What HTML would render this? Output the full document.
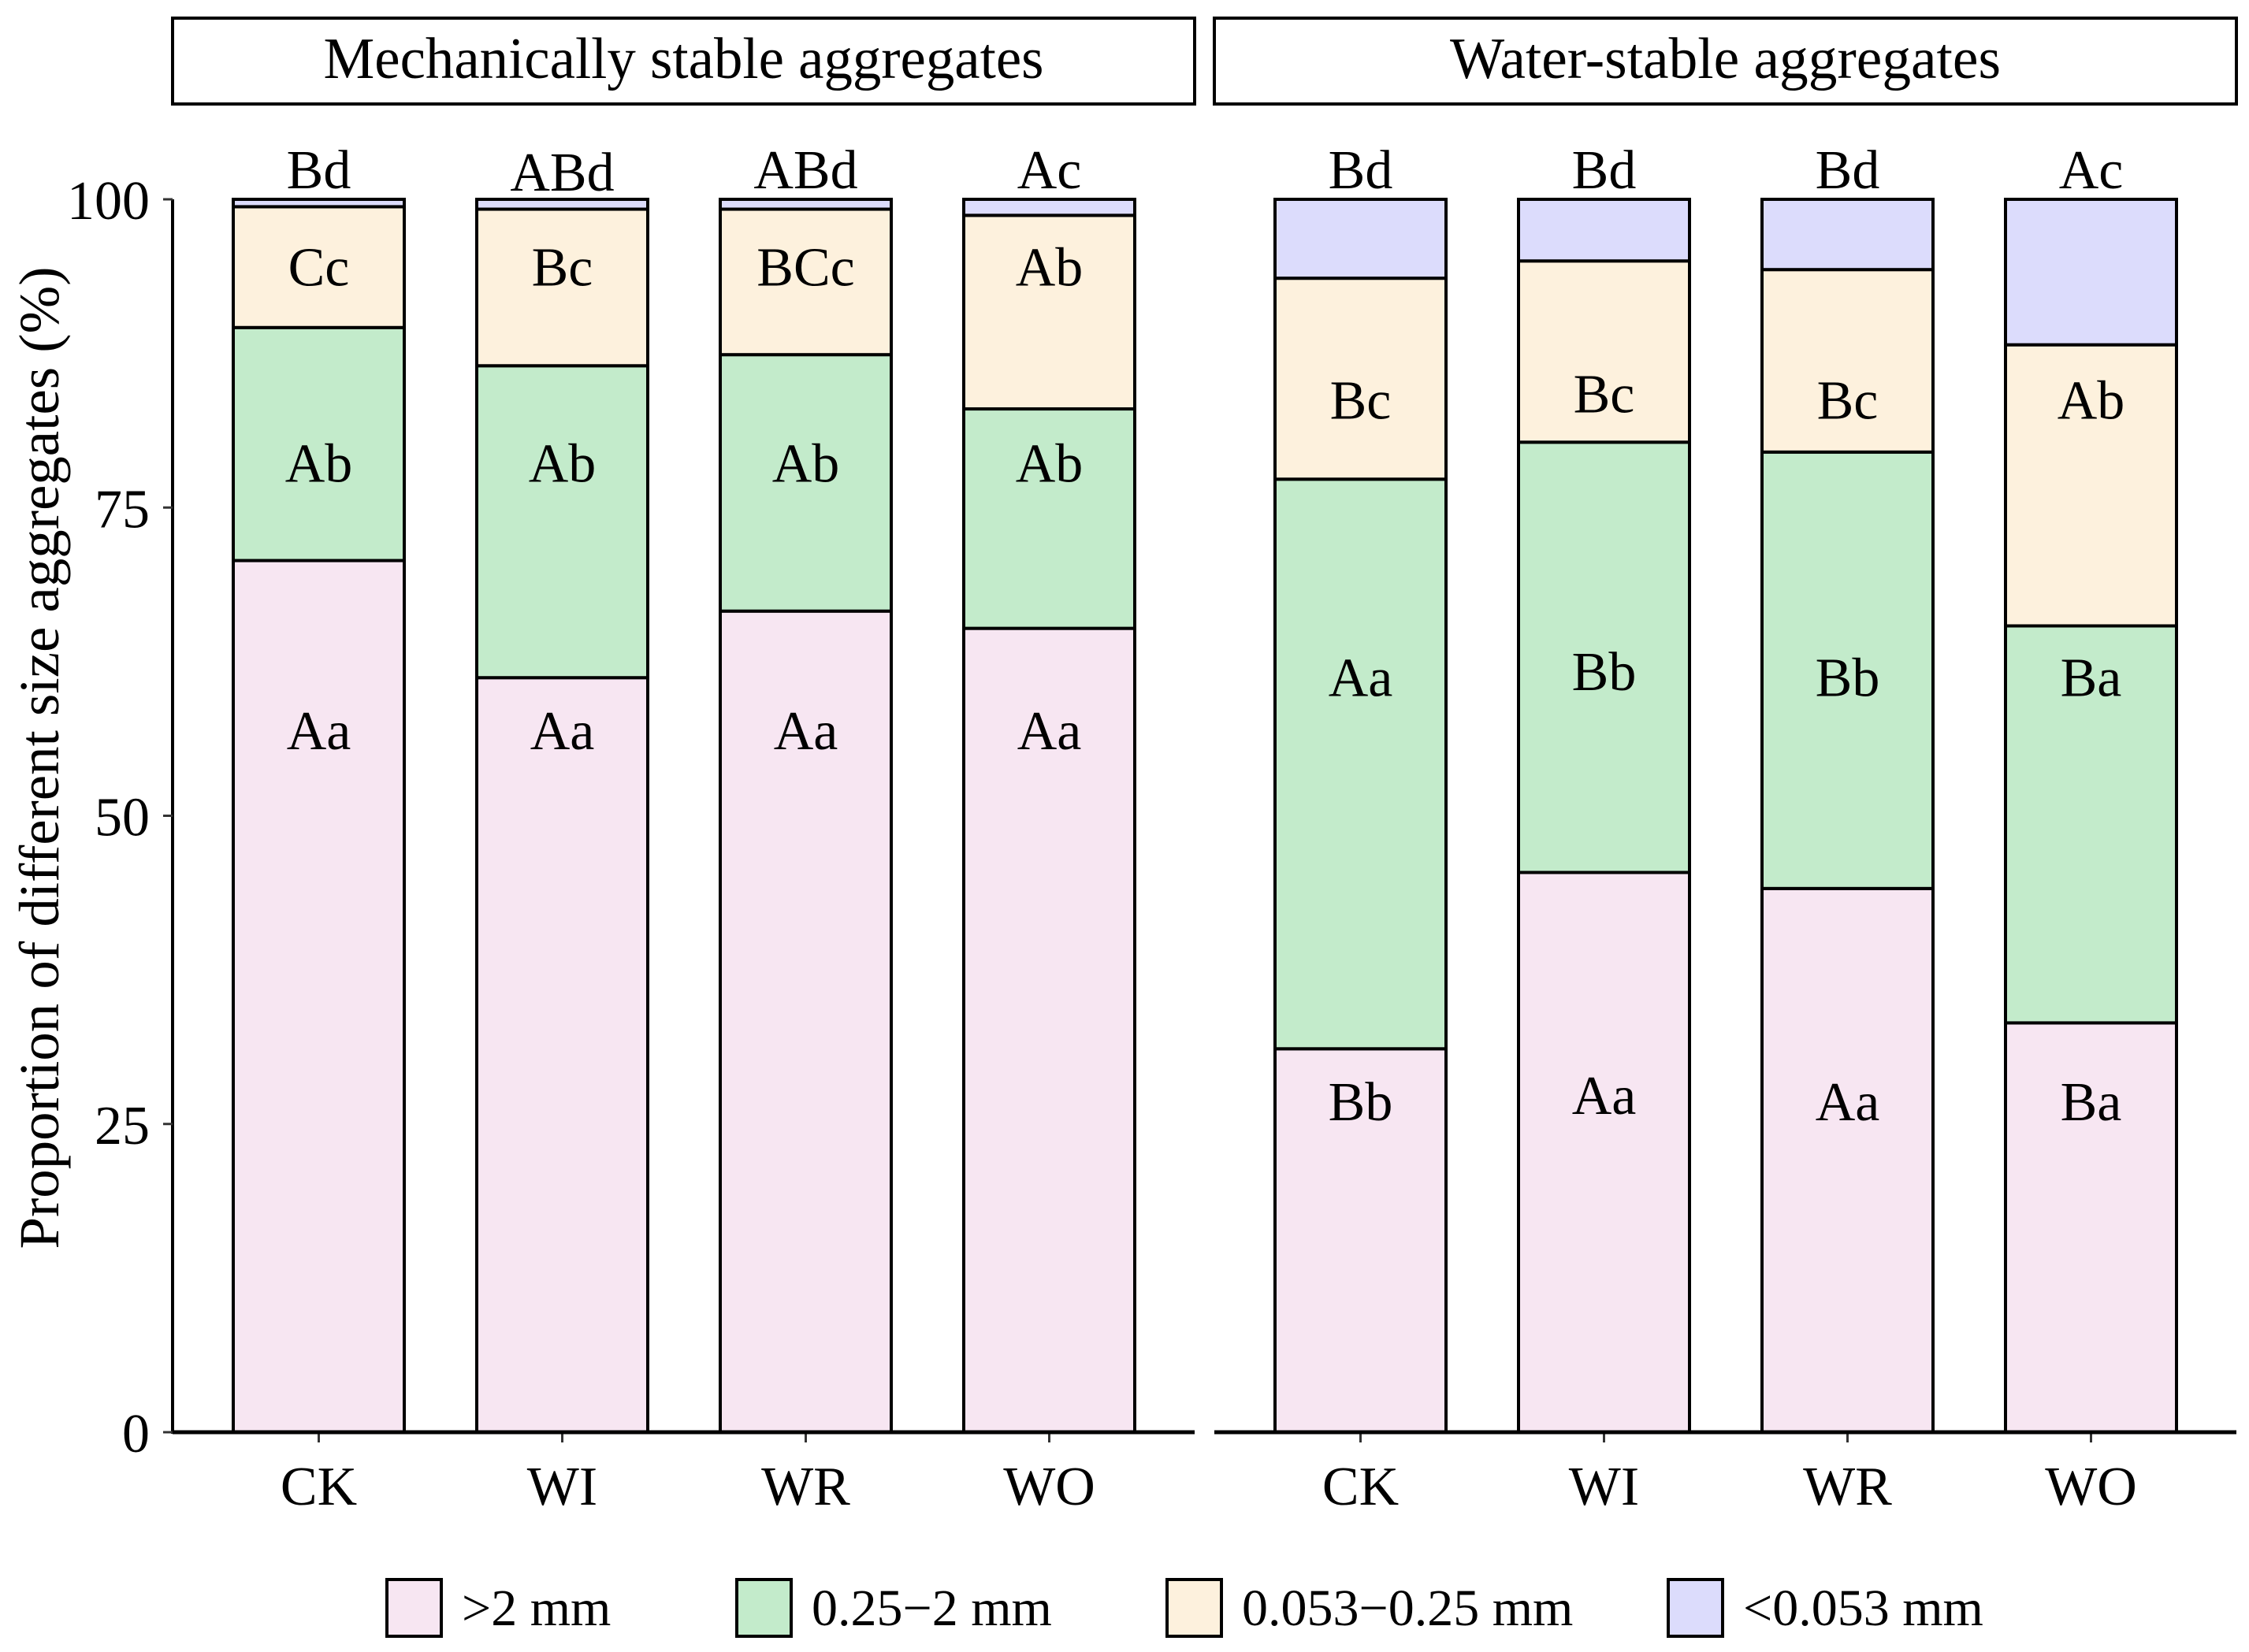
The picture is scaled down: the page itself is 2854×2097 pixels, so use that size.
<!DOCTYPE html>
<html><head><meta charset="utf-8"><style>
html,body{margin:0;padding:0;background:#fff;}
svg text{font-family:"Liberation Serif",serif;fill:#000;}
</style></head><body>
<svg id="chart" width="2854" height="2092" viewBox="0 0 2854 2092" xmlns="http://www.w3.org/2000/svg">
<g id="root"></g>
</svg>
<script>
const categories = ["CK","WI","WR","WO"];
const panels = ["Mechanically stable aggregates","Water-stable aggregates"];
const seriesNames = [">2 mm","0.25\u22122 mm","0.053\u22120.25 mm","<0.053 mm"];
const seriesColors = ["#F7E6F2","#C3EBCB","#FDF1DD","#DCDCFC"];
// Mechanically stable: segment values (%)
const mechGt2 = [70.7,61.2,66.6,65.2];
const mech025 = [18.9,25.3,20.8,17.8];
const mech0053 = [9.8,12.7,11.8,15.7];
const mechLt0053 = [0.6,0.8,0.8,1.3];
// Water-stable
const waterGt2 = [31.1,45.4,44.1,33.2];
const water025 = [46.2,34.9,35.4,32.2];
const water0053 = [16.3,14.7,14.8,22.8];
const waterLt0053 = [6.4,5.0,5.7,11.8];
// Significance letters
const mechLetters = [["Aa","Aa","Aa","Aa"],["Ab","Ab","Ab","Ab"],["Cc","Bc","BCc","Ab"],["Bd","ABd","ABd","Ac"]];
const waterLetters = [["Bb","Aa","Aa","Ba"],["Aa","Bb","Bb","Ba"],["Bc","Bc","Bc","Ab"],["Bd","Bd","Bd","Ac"]];
// Letter positions (y-values in %)
const mechLetterY = [[57,57,57,57],[78.7,78.7,78.7,78.7],[94.6,94.6,94.6,94.6],[102.5,102.3,102.5,102.5]];
const waterLetterY = [[26.9,27.4,26.9,26.9],[61.3,61.8,61.3,61.3],[83.8,84.3,83.8,83.8],[102.5,102.5,102.5,102.5]];
const yTicks = [0,25,50,75,100];

const NS="http://www.w3.org/2000/svg";
const root=document.getElementById('root');
function el(tag,attrs,parent){const e=document.createElementNS(NS,tag);for(const k in attrs)e.setAttribute(k,attrs[k]);(parent||root).appendChild(e);return e;}
const Y0=1818, Y100=253;
function yScale(v){return Y0-(Y0-Y100)*v/100;}
const panelX=[219,1541], panelW=1297, barOff=77, barStep=309, barW=217;
const titleLen=[914,699];
function xBar(p,i){return panelX[p]+barOff+i*barStep;}
const panelData=[[mechGt2,mech025,mech0053,mechLt0053],[waterGt2,water025,water0053,waterLt0053]];
const panelLetters=[mechLetters,waterLetters];
const panelLetterY=[mechLetterY,waterLetterY];

for(let p=0;p<2;p++){
  const g=el('g',{});
  
  
  const strip=el('rect',{x:panelX[p],y:23,width:panelW,height:109,fill:'#fff',stroke:'#000','stroke-width':4},g);
  
  
  const st=el('text',{x:panelX[p]+panelW/2,y:99,'text-anchor':'middle','font-size':74,textLength:titleLen[p],lengthAdjust:'spacingAndGlyphs'},g);
  st.textContent=panels[p];
  
  
  for(let i=0;i<4;i++){
    let cum=0;
    for(let s=0;s<4;s++){
      const v=panelData[p][s][i];
      const yt=yScale(cum+v), yb=yScale(cum);
      const r=el('rect',{x:xBar(p,i),y:yt,width:barW,height:yb-yt,fill:seriesColors[s],stroke:'#000','stroke-width':4},g);
      
      
      cum+=v;
      const t=el('text',{x:xBar(p,i)+barW/2,y:yScale(panelLetterY[p][s][i])+25,'text-anchor':'middle','font-size':70},g);
      t.textContent=panelLetters[p][s][i];
      
      
    }
    const tk=el('line',{x1:xBar(p,i)+barW/2,x2:xBar(p,i)+barW/2,y1:Y0,y2:1831,stroke:'#333','stroke-width':3},g);
    
    
    const xl=el('text',{x:xBar(p,i)+barW/2,y:1910,'text-anchor':'middle','font-size':70},g);
    xl.textContent=categories[i];
    
    
  }
  const ax=el('line',{x1:panelX[p],x2:panelX[p]+panelW,y1:Y0,y2:Y0,stroke:'#000','stroke-width':5},g);
  
  
}
const ya=el('line',{x1:219,x2:219,y1:Y100,y2:Y0+2,stroke:'#000','stroke-width':4});


for(const t of yTicks){
  const l=el('line',{x1:207,x2:219,y1:yScale(t),y2:yScale(t),stroke:'#333','stroke-width':3});
  
  
  const tx=el('text',{x:190,y:yScale(t)+25,'text-anchor':'end','font-size':70});
  tx.textContent=t;
  
  
}
const yt=el('text',{x:0,y:0,'text-anchor':'middle','font-size':72,textLength:1247,lengthAdjust:'spacingAndGlyphs',transform:'translate(74,962) rotate(-90)'});
yt.textContent='Proportion of different size aggregates (%)';


const legX=[491,935,1481,2117];
for(let s=0;s<4;s++){
  const lg=el('g',{});
  
  
  el('rect',{x:legX[s],y:2005,width:69,height:72,fill:seriesColors[s],stroke:'#000','stroke-width':4},lg);
  const t=el('text',{x:legX[s]+95,y:2063,'font-size':66},lg);
  t.textContent=seriesNames[s];
}
</script>
</body></html>
